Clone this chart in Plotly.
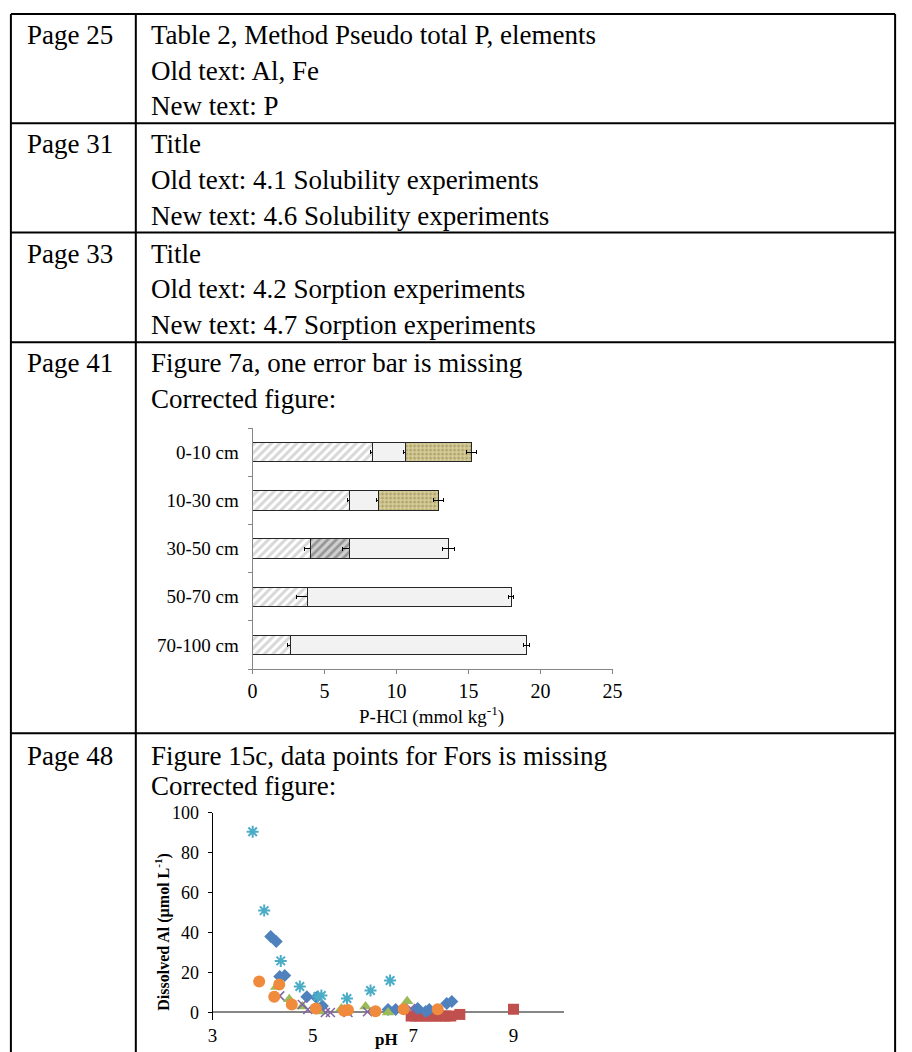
import plotly.graph_objects as go

W, H = 912, 1052

# ---------------- table text ----------------
page_labels = ["Page 25", "Page 31", "Page 33", "Page 41", "Page 48"]
row_texts = [
    ["Table 2, Method Pseudo total P, elements", "Old text: Al, Fe", "New text: P"],
    ["Title", "Old text: 4.1 Solubility experiments", "New text: 4.6 Solubility experiments"],
    ["Title", "Old text: 4.2 Sorption experiments", "New text: 4.7 Sorption experiments"],
    ["Figure 7a, one error bar is missing", "Corrected figure:"],
    ["Figure 15c, data points for Fors is missing", "Corrected figure:"],
]

# ---------------- Figure 7a data ----------------
depths = ["0-10 cm", "10-30 cm", "30-50 cm", "50-70 cm", "70-100 cm"]
seg1 = [8.35, 6.7, 4.0, 3.8, 2.65]
seg1_err = [0.15, 0.12, 0.42, 0.75, 0.2]
seg2 = [None, None, 2.7, None, None]
seg2_err = [None, None, 0.43, None, None]
seg3 = [2.3, 2.07, 6.9, 14.15, 16.35]
seg3_err = [0.15, 0.15, 0.44, 0.2, 0.2]
seg4 = [4.55, 4.13, None, None, None]
seg4_err = [0.33, 0.33, None, None, None]
bar_ticks = [0, 5, 10, 15, 20, 25]

# ---------------- Figure 15c data ----------------
teal_ph = [3.80, 4.03, 4.36, 4.74, 5.10, 5.17, 5.68, 6.15, 6.54]
teal_al = [90.5, 51, 25.8, 13, 8, 8.5, 7, 11, 16]
blue_ph = [4.16, 4.27, 4.34, 4.44, 4.88, 5.07, 5.19, 6.50, 6.65, 7.09, 7.25, 7.32, 7.67, 7.77]
blue_al = [38, 35.5, 18, 18.5, 7.8, 7.5, 3.2, 1.5, 1.5, 2, 0.5, 1.5, 4.5, 5.5]
orange_ph = [3.93, 4.23, 4.33, 4.58, 5.06, 5.62, 5.70, 6.25, 6.81, 7.49]
orange_al = [15.5, 7.8, 14, 4, 2, 0.8, 1.2, 0.6, 1.6, 1.6]
green_ph = [4.27, 4.53, 4.79, 5.15, 5.57, 5.63, 6.05, 6.50, 6.88]
green_al = [12.7, 6.6, 3, 0.5, 2, 1.5, 3, 0, 5.6]
purple_ph = [4.34, 4.79, 4.90, 5.25, 5.35, 5.70, 6.09, 6.95]
purple_al = [8.3, 4, 1.5, 0, 0, 0, 0.3, 2]
red_ph = [6.96, 7.05, 7.15, 7.25, 7.35, 7.45, 7.55, 7.65, 7.75, 7.93, 9.0]
red_al = [-1.8, -1.8, -1.8, -1.8, -1.8, -1.8, -1.8, -1.8, -1.8, -1.0, 1.6]
sc_xticks = [3, 5, 7, 9]
sc_yticks = [0, 20, 40, 60, 80, 100]
sc_yrange = [-4, 100]

SERIF = "Liberation Serif"


def px(x):
    return x / W


def py(y):
    return 1 - y / H


fig = go.Figure()

# ---------- bar chart ----------
err_style = dict(type="data", color="black", thickness=1, width=2)
fig.add_trace(go.Bar(
    y=depths, x=seg1, orientation="h", xaxis="x", yaxis="y",
    marker=dict(color="white", line=dict(color="#262626", width=1),
                pattern=dict(shape="/", fgcolor="#B0B0B0", bgcolor="white", size=6, solidity=0.5)),
    error_x=dict(array=seg1_err, **err_style), showlegend=False))
fig.add_trace(go.Bar(
    y=depths, x=seg2, orientation="h", xaxis="x", yaxis="y",
    marker=dict(color="#D9D9D9", line=dict(color="#262626", width=1),
                pattern=dict(shape="/", fgcolor="#595959", bgcolor="#D0D0D0", size=6, solidity=0.45)),
    error_x=dict(array=seg2_err, **err_style), showlegend=False))
fig.add_trace(go.Bar(
    y=depths, x=seg3, orientation="h", xaxis="x", yaxis="y",
    marker=dict(color="#F2F2F2", line=dict(color="#262626", width=1)),
    error_x=dict(array=seg3_err, **err_style), showlegend=False))
fig.add_trace(go.Bar(
    y=depths, x=seg4, orientation="h", xaxis="x", yaxis="y",
    marker=dict(color="#D2C894", line=dict(color="#262626", width=1),
                pattern=dict(shape=".", fgcolor="#7F7538", bgcolor="#D8CE9C", size=4, solidity=0.4)),
    error_x=dict(array=seg4_err, **err_style), showlegend=False))

# ---------- scatter ----------
def sc(xs, ys, symbol, color, size, line=None):
    m = dict(symbol=symbol, color=color, size=size)
    if line:
        m["line"] = line
    fig.add_trace(go.Scatter(x=xs, y=ys, mode="markers", xaxis="x2", yaxis="y2",
                             marker=m, cliponaxis=False, showlegend=False))

sc(red_ph, red_al, "square", "#C0504D", 11)
sc(blue_ph, blue_al, "diamond", "#4F81BD", 10)
sc(green_ph, green_al, "triangle-up", "#9BBB59", 11)
sc(purple_ph, purple_al, "x-thin", "#8064A2", 9, dict(color="#8064A2", width=1.5))
sc(teal_ph, teal_al, "asterisk", "#4BACC6", 10, dict(color="#4BACC6", width=2))
sc(orange_ph, orange_al, "circle", "#F08A3C", 12)

# scatter y: value 0 at pixel 1014, value 100 at pixel 812
y0_px, y100_px = 1014, 812
ppu = (y0_px - y100_px) / 100.0
sc_bottom_px = y0_px + (0 - sc_yrange[0]) * ppu

fig.update_layout(
    width=W, height=H, margin=dict(l=0, r=0, t=0, b=0),
    paper_bgcolor="white", plot_bgcolor="rgba(0,0,0,0)",
    barmode="stack", bargap=0.6,
    font=dict(family=SERIF, color="black"),
    xaxis=dict(domain=[px(251.7), px(617.7)], range=[0, 25], tickvals=bar_ticks,
               showgrid=False, zeroline=False, showline=True, linecolor="#868686", linewidth=1,
               ticks="outside", ticklen=4, tickcolor="#868686",
               tickfont=dict(family=SERIF, size=20, color="black"),
               anchor="y", fixedrange=True),
    yaxis=dict(domain=[py(666.7), py(423)], categoryorder="array", categoryarray=depths[::-1],
               showgrid=False, zeroline=False, showline=True, linecolor="#868686", linewidth=1,
               ticks="outside", ticklen=4, tickcolor="#868686", tickson="boundaries",
               tickfont=dict(family=SERIF, size=19, color="black"), ticklabelstandoff=9,
               anchor="x"),
    xaxis2=dict(domain=[px(211), px(568)], range=[3, 10], tickvals=sc_xticks,
                showgrid=False, zeroline=False, showline=False, ticks="",
                tickfont=dict(family=SERIF, size=19, color="black"), ticklabelstandoff=2,
                anchor="y2"),
    yaxis2=dict(domain=[py(sc_bottom_px), py(y100_px)], range=sc_yrange, tickvals=sc_yticks,
                showgrid=False, zeroline=True, zerolinecolor="#868686", zerolinewidth=1.5,
                showline=True, linecolor="black", linewidth=1,
                ticks="outside", ticklen=4, tickcolor="black",
                tickfont=dict(family=SERIF, size=18, color="black"), ticklabelstandoff=5,
                anchor="x2"),
)

# axis titles
fig.add_annotation(x=px(434), y=py(714), xref="paper", yref="paper", showarrow=False,
                   xanchor="center", yanchor="middle",
                   text="P-HCl (mmol kg<sup>-1</sup>)", font=dict(family=SERIF, size=19, color="black"))
fig.add_annotation(x=px(160), y=py(932), xref="paper", yref="paper", showarrow=False, textangle=-90,
                   xanchor="center", yanchor="middle",
                   text="<b>Dissolved Al (µmol L<sup>-1</sup>)</b>", font=dict(family=SERIF, size=16, color="black"))
fig.add_annotation(x=px(388), y=py(1052), xref="paper", yref="paper", showarrow=False,
                   xanchor="center", yanchor="bottom", borderpad=0,
                   text="<b>pH</b>", font=dict(family=SERIF, size=17, color="black"))

# ---------- table ----------
row_tops = [4, 114.5, 225, 336, 731.7]
first_off = [21.4, 21.4, 21.4, 21.4, 23]
line_hs = [36, 36, 36, 36, 30]
tfont = dict(family=SERIF, size=27, color="black")
for i, top in enumerate(row_tops):
    fig.add_annotation(x=px(20), y=py(top + first_off[i]), xref="paper", yref="paper", showarrow=False,
                       xanchor="left", yanchor="middle", text=page_labels[i], font=tfont)
    for j, t in enumerate(row_texts[i]):
        fig.add_annotation(x=px(146.5), y=py(top + first_off[i] + j * line_hs[i]), xref="paper", yref="paper",
                           showarrow=False, xanchor="left", yanchor="middle", text=t, font=tfont)

lw = 2
left, mid, right = 6, 133, 905
for y in row_tops:
    fig.add_shape(type="line", xref="paper", yref="paper", x0=px(left), x1=px(right),
                  y0=py(y), y1=py(y), line=dict(color="black", width=lw))
for x in [left, mid, right]:
    fig.add_shape(type="line", xref="paper", yref="paper", x0=px(x), x1=px(x),
                  y0=py(row_tops[0]), y1=py(H + 5), line=dict(color="black", width=lw))

fig.write_html("out.html", config={"displayModeBar": False},
               post_script="document.body.style.margin='0px';")
